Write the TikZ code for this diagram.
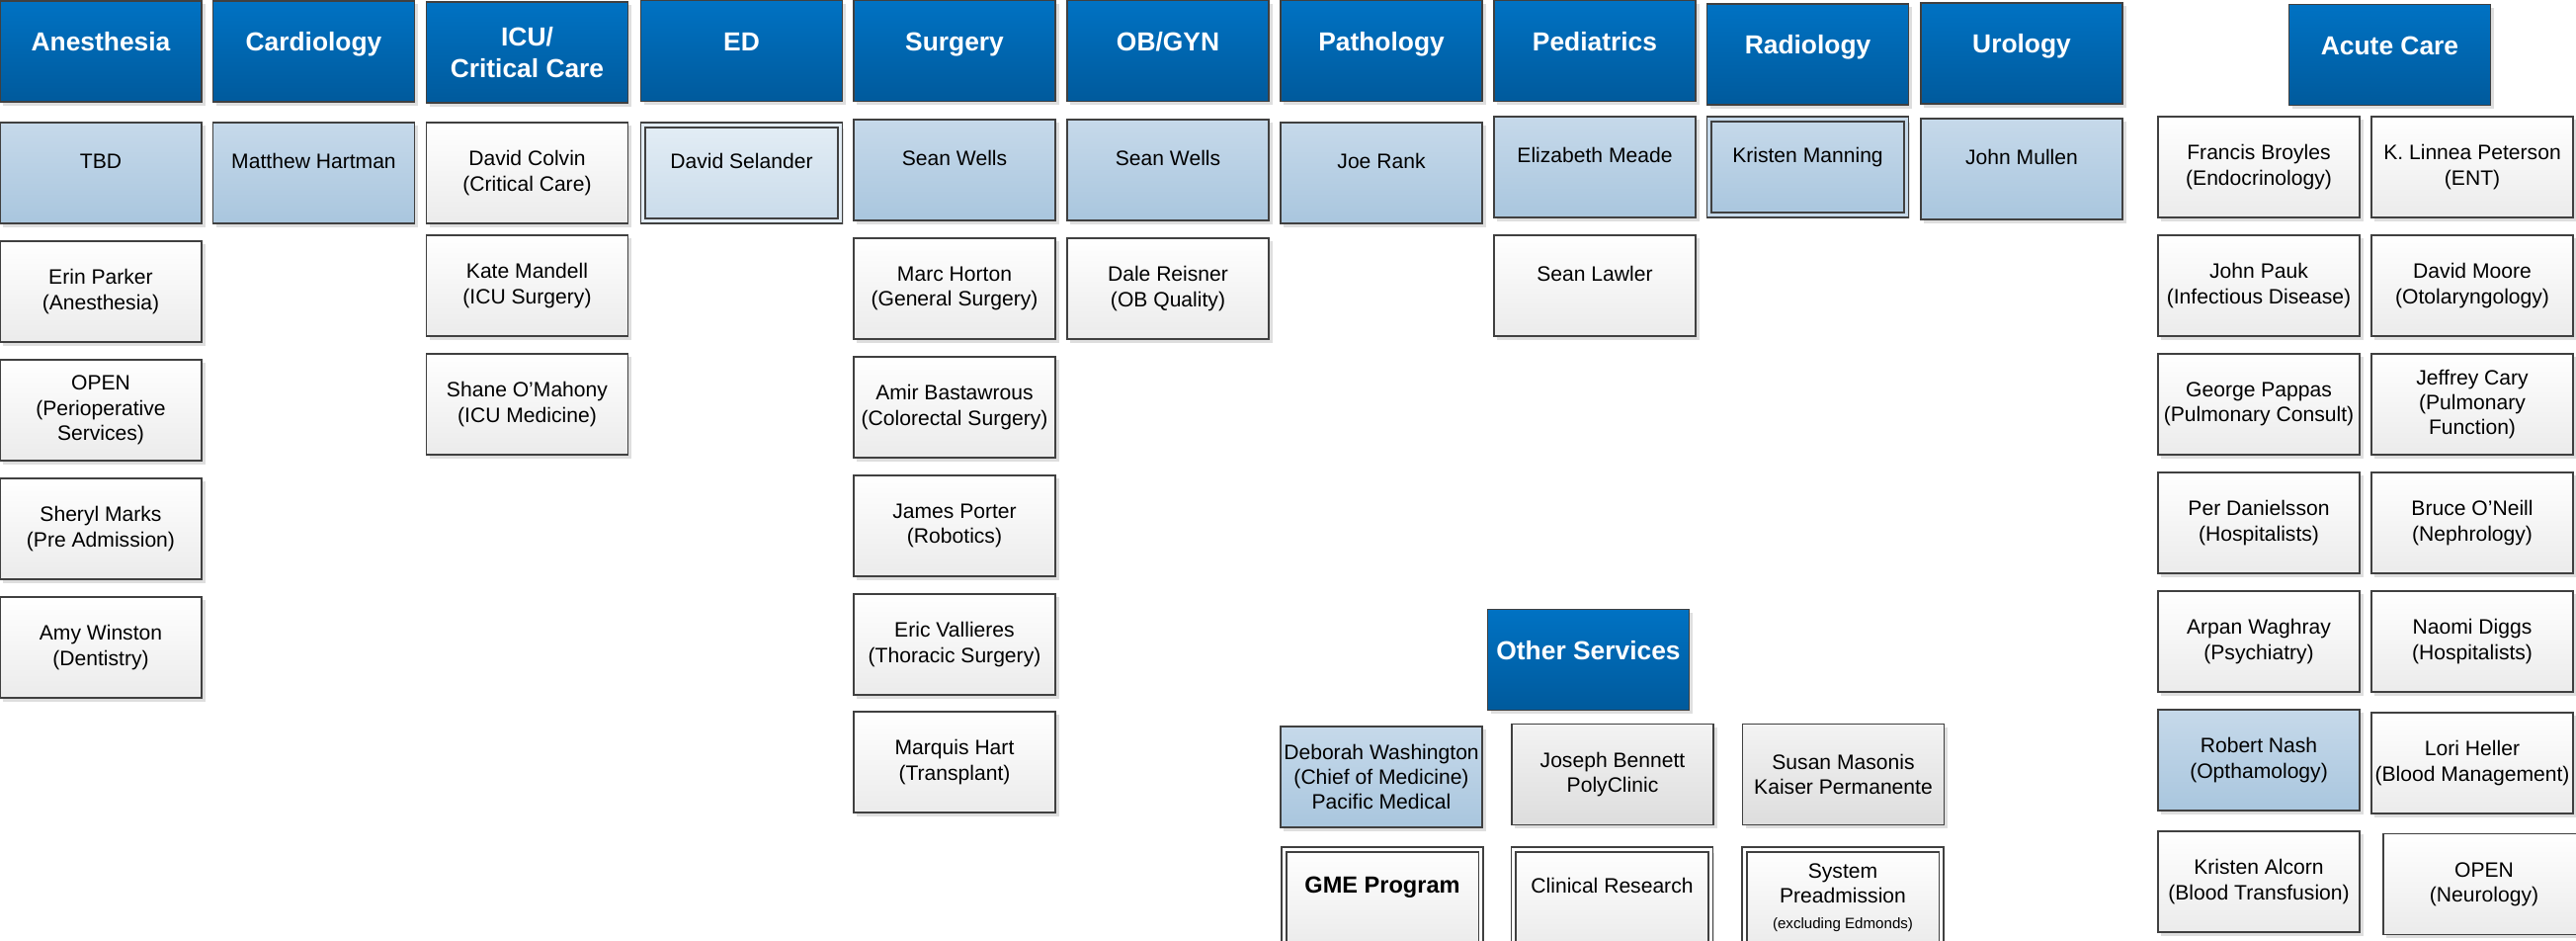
\documentclass[tikz,border=0pt]{standalone}
\usepackage{fontspec}
\setmainfont{Liberation Sans}
\usetikzlibrary{shadows}

\definecolor{hdtop}{HTML}{0072C3}
\definecolor{hdbot}{HTML}{005A9C}
\definecolor{ltop}{HTML}{C6D9EA}
\definecolor{lbot}{HTML}{A9C6DE}
\definecolor{ptop}{HTML}{E3EDF5}
\definecolor{pbot}{HTML}{C9DBEA}
\definecolor{gbot}{HTML}{EBEBEB}
\definecolor{otop}{HTML}{F3F3F3}
\definecolor{obot}{HTML}{DDDDDD}
\definecolor{edge}{HTML}{404040}

\tikzset{
  card/.style={draw=edge, line width=0.45pt, minimum width=2.04cm, minimum height=1.02cm,
    inner sep=0pt, align=center, font=\fontsize{6}{7.2}\selectfont,
    drop shadow={shadow xshift=0.035cm, shadow yshift=-0.035cm, fill=black, opacity=0.13}},
  dept/.style={card, top color=hdtop, bottom color=hdbot, text=white,
    font=\fontsize{7.5}{9}\selectfont\bfseries},
  lead/.style={card, top color=ltop, bottom color=lbot},
  staff/.style={card, top color=white, bottom color=gbot},
  dbl/.style={double distance=0.9pt, minimum width=1.9925cm, minimum height=0.9725cm},
  oneline/.style={text height=4.5pt, text depth=7pt},
  onehead/.style={text height=5.5pt, text depth=5.5pt},
}

\begin{document}
\begin{tikzpicture}[x=0.01cm, y=-0.01cm]
    \useasboundingbox (0,0) rectangle (2607,952);

    % departments
    \node[dept, onehead] (anes) at (102,52) {Anesthesia};
    \node[dept, onehead] (cardio) at (317.5,52) {Cardiology};
    \node[dept] (icu) at (533.5,53) {ICU/\\Critical Care};
    \node[dept, onehead] (ed) at (750.5,51.5) {ED};
    \node[dept, onehead] (surg) at (966,51.5) {Surgery};
    \node[dept, onehead] (obgyn) at (1182,51.5) {OB/GYN};
    \node[dept, onehead] (path) at (1398,51.5) {Pathology};
    \node[dept, onehead] (peds) at (1614,51.5) {Pediatrics};
    \node[dept, onehead] (rad) at (1829.5,55) {Radiology};
    \node[dept, onehead] (uro) at (2046,54) {Urology};
    \node[dept, onehead] (acute) at (2418.5,55.5) {Acute Care};
    \node[dept, onehead] (other) at (1607.5,667.5) {Other Services};

    % chiefs
    \node[lead, oneline] (tbd) at (102,175) {TBD};
    \node[lead, oneline] (hartman) at (317.5,175) {Matthew Hartman};
    \node[staff] (colvin) at (533.5,175) {David Colvin\\(Critical Care)};
    \node[lead, dbl, double=ptop, top color=ptop, bottom color=pbot, oneline] (selander) at (750.5,175) {David Selander};
    \node[lead, oneline] (wells) at (966,172) {Sean Wells};
    \node[lead, oneline] (wellsob) at (1182,172) {Sean Wells};
    \node[lead, oneline] (rank) at (1398,175) {Joe Rank};
    \node[lead, oneline] (meade) at (1614,169) {Elizabeth Meade};
    \node[lead, dbl, double=ltop, oneline] (manning) at (1829.5,169) {Kristen Manning};
    \node[lead, oneline] (mullen) at (2046,171) {John Mullen};

    \node[staff] (parker) at (102,295) {Erin Parker\\(Anesthesia)};
    \node[staff] (openperi) at (102,415) {OPEN\\(Perioperative\\Services)};
    \node[staff] (marks) at (102,535) {Sheryl Marks\\(Pre Admission)};
    \node[staff] (winston) at (102,655) {Amy Winston\\(Dentistry)};
    \node[staff] (mandell) at (533.5,289) {Kate Mandell\\(ICU Surgery)};
    \node[staff] (omahony) at (533.5,409) {Shane O’Mahony\\(ICU Medicine)};
    \node[staff] (horton) at (966,292) {Marc Horton\\(General Surgery)};
    \node[staff] (reisner) at (1182,292) {Dale Reisner\\(OB Quality)};
    \node[staff] (bastawrous) at (966,412) {Amir Bastawrous\\(Colorectal Surgery)};
    \node[staff] (porter) at (966,532) {James Porter\\(Robotics)};
    \node[staff] (vallieres) at (966,652) {Eric Vallieres\\(Thoracic Surgery)};
    \node[staff] (hart) at (966,771) {Marquis Hart\\(Transplant)};
    \node[staff, oneline] (lawler) at (1614,289) {Sean Lawler};

    % other services
    \node[lead] (washington) at (1398,786) {Deborah Washington\\(Chief of Medicine)\\Pacific Medical};
    \node[staff, top color=otop, bottom color=obot] (bennett) at (1632,783.5) {Joseph Bennett\\PolyClinic};
    \node[staff, top color=otop, bottom color=obot] (masonis) at (1865.5,783.5) {Susan Masonis\\Kaiser Permanente};
    \node[staff, dbl, double=white, oneline, font=\fontsize{6.7}{8}\selectfont\bfseries] (gme) at (1399,908) {GME Program};
    \node[staff, dbl, double=white, oneline] (research) at (1631.5,908) {Clinical Research};
    \node[staff, dbl, double=white] (preadm) at (1865,908) {System\\Preadmission\\{\fontsize{4.3}{5}\selectfont(excluding Edmonds)}};

    % acute care
    \node[staff] (broyles) at (2286,169) {Francis Broyles\\(Endocrinology)};
    \node[staff] (peterson) at (2502,169) {K. Linnea Peterson\\(ENT)};
    \node[staff] (pauk) at (2286,289) {John Pauk\\(Infectious Disease)};
    \node[staff] (moore) at (2502,289) {David Moore\\(Otolaryngology)};
    \node[staff] (pappas) at (2286,409) {George Pappas\\(Pulmonary Consult)};
    \node[staff] (cary) at (2502,409) {Jeffrey Cary\\(Pulmonary\\Function)};
    \node[staff] (danielsson) at (2286,529) {Per Danielsson\\(Hospitalists)};
    \node[staff] (oneill) at (2502,529) {Bruce O’Neill\\(Nephrology)};
    \node[staff] (waghray) at (2286,649) {Arpan Waghray\\(Psychiatry)};
    \node[staff] (diggs) at (2502,649) {Naomi Diggs\\(Hospitalists)};
    \node[lead] (nash) at (2286,769) {Robert Nash\\(Opthamology)};
    \node[staff] (heller) at (2502,772) {Lori Heller\\(Blood Management)};
    \node[staff] (alcorn) at (2286,892) {Kristen Alcorn\\(Blood Transfusion)};
    \node[staff] (openneuro) at (2514,894.5) {OPEN\\(Neurology)};
\end{tikzpicture}
\end{document}
